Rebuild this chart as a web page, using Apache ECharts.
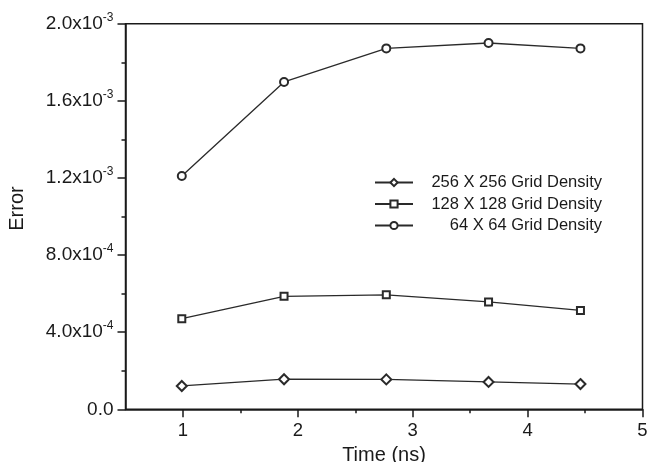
<!DOCTYPE html>
<html><head><meta charset="utf-8">
<script src="https://cdn.jsdelivr.net/npm/echarts@6/dist/echarts.min.js"></script>
<style>html,body{margin:0;padding:0;background:#fff}#c{width:647px;height:462px}</style>
</head><body><div id="c"></div>
<script>
const seriesNames = ['256 X 256 Grid Density', '128 X 128 Grid Density', '64 X 64 Grid Density'];
const times = [0.99, 1.88, 2.77, 3.66, 4.46];
const err256 = [1.21e-4, 1.56e-4, 1.55e-4, 1.42e-4, 1.31e-4];
const err128 = [4.70e-4, 5.86e-4, 5.94e-4, 5.57e-4, 5.13e-4];
const err64 = [1.21e-3, 1.698e-3, 1.872e-3, 1.90e-3, 1.872e-3];
const xMajorTicks = [1, 2, 3, 4, 5];
const xMinorTicks = [1.5, 2.5, 3.5, 4.5];
const symbols = ['emptyDiamond', 'emptyRect', 'emptyCircle'];
const symbolSizes = [10, 7, 8];

const FONT = '"Liberation Sans", Arial, sans-serif';
const C = '#1a1a1a';
function pairs(ys){ return times.map((t,i)=>[t, ys[i]]); }
function yFmt(v){
  if (Math.abs(v) < 1e-12) return '0.0';
  const e = Math.floor(Math.log10(v) + 1e-9);
  const m = v / Math.pow(10, e);
  return m.toFixed(1) + 'x10{s|' + e + '}';
}
const chart = echarts.init(document.getElementById('c'));
const data = [err256, err128, err64];
chart.setOption({
  animation: false,
  backgroundColor: '#fff',
  grid: {left: 125.5, right: 4.5, top: 23.7, bottom: 52.7, show: true, borderColor: C, borderWidth: 1.5, backgroundColor: 'transparent', containLabel: false, outerBoundsMode: 'none'},
  legend: {
    orient: 'vertical', left: 369, top: 169, padding: 5,
    itemWidth: 38, itemHeight: 9, itemGap: 4.5,
    data: seriesNames,
    formatter: n => '{r|' + n + '}',
    textStyle: {fontFamily: FONT, fontSize: 16.5, color: C, lineHeight: 16,
      rich: {r: {width: 184, align: 'right', fontFamily: FONT, fontSize: 16.5, color: C, lineHeight: 16}}}
  },
  xAxis: [{
    type: 'value', min: 0.5, max: 5, position: 'bottom',
    name: 'Time (ns)', nameLocation: 'middle', nameGap: 33,
    nameTextStyle: {fontFamily: FONT, fontSize: 20, color: C},
    axisLine: {lineStyle: {color: C, width: 1.5}},
    axisTick: {show: true, length: 8, inside: false, customValues: xMajorTicks, lineStyle: {color: C, width: 1.5}},
    axisLabel: {customValues: xMajorTicks, fontFamily: FONT, fontSize: 18.5, color: C, margin: 12},
    splitLine: {show: false}
  }, {
    type: 'value', min: 0.5, max: 5, position: 'bottom',
    axisLine: {show: false},
    axisTick: {show: true, length: 4, customValues: xMinorTicks, lineStyle: {color: C, width: 1.5}},
    axisLabel: {show: false},
    splitLine: {show: false}
  }],
  yAxis: {
    type: 'value', min: 0, max: 2.0e-3, interval: 4e-4,
    name: 'Error', nameLocation: 'middle', nameGap: 98, nameRotate: 90,
    nameTextStyle: {fontFamily: FONT, fontSize: 20, color: C, padding: [0, 0, 0, 16]},
    axisLine: {show: true, lineStyle: {color: C, width: 1.5}},
    axisTick: {show: true, length: 8, lineStyle: {color: C, width: 1.5}},
    minorTick: {show: true, splitNumber: 2, length: 4, lineStyle: {color: C, width: 1.5}},
    axisLabel: {formatter: yFmt, fontFamily: FONT, fontSize: 19, color: C, margin: 12,
      rich: {s: {fontFamily: FONT, fontSize: 12, color: C, verticalAlign: 'top', padding: [0,0,12,0]}}},
    splitLine: {show: false}
  },
  series: seriesNames.map((n, i) => ({
    name: n, type: 'line', data: pairs(data[i]),
    symbol: symbols[i], symbolSize: symbolSizes[i], showSymbol: true,
    lineStyle: {color: '#2a2a2a', width: 1.3},
    itemStyle: {color: '#2a2a2a', borderColor: '#2a2a2a', borderWidth: 1.3}
  }))
});
</script></body></html>
